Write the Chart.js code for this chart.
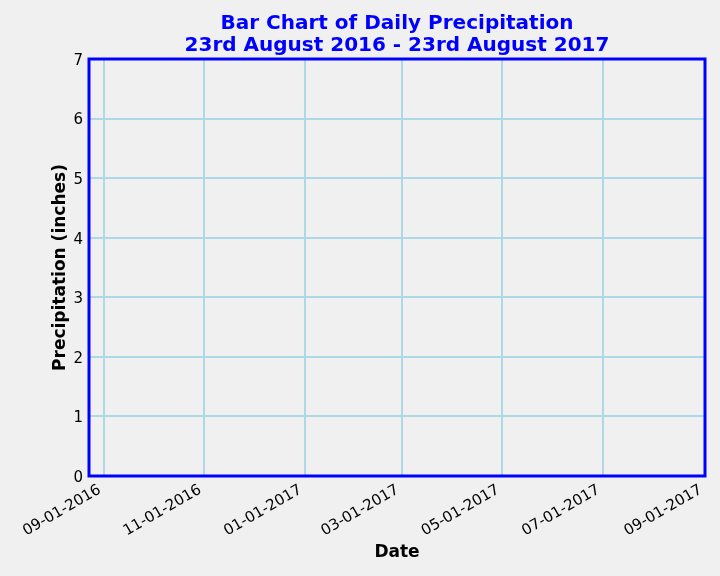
<!DOCTYPE html>
<html>
<head>
<meta charset="utf-8">
<script src="https://cdn.jsdelivr.net/npm/chart.js@4/dist/chart.umd.min.js"></script>
<style>
  html, body { margin: 0; padding: 0; background: #f0f0f0; }
  #wrap { width: 720px; height: 576px; }
</style>
</head>
<body>
<div id="wrap"><canvas id="c" width="720" height="576"></canvas></div>
<script>
// daily precipitation - no bars are visible in the reference, so no values
const dates = [];
const precip = [];

// x range and ticks (dates)
const xStart = "2016-08-23";
const xEnd = "2017-09-01";
const tickDates = ["2016-09-01", "2016-11-01", "2017-01-01", "2017-03-01", "2017-05-01", "2017-07-01", "2017-09-01"];
const yTicks = [0, 1, 2, 3, 4, 5, 6, 7];

const DAY = 86400000;
const toDay = (s) => Date.parse(s + "T00:00:00Z") / DAY;
const fmt = (d) => {
	const t = new Date(d * DAY);
	const mm = String(t.getUTCMonth() + 1).padStart(2, "0");
	const dd = String(t.getUTCDate()).padStart(2, "0");
	return mm + "-" + dd + "-" + t.getUTCFullYear();
};

const points = dates.map((d, i) => ({ x: toDay(d), y: precip[i] }));

const frame = {
	id: "frame",
	afterLayout(chart) {
		// centre the title over the plot area
		const tb = chart.titleBlock;
		if (tb) {
			tb.left = chart.chartArea.left;
			tb.right = chart.chartArea.right;
		}
	},
	afterDraw(chart) {
		const a = chart.chartArea;
		const ctx = chart.ctx;
		ctx.save();
		ctx.strokeStyle = "blue";
		ctx.lineWidth = 3;
		ctx.strokeRect(a.left, a.top, a.right - a.left, a.bottom - a.top);
		ctx.restore();
	},
};

Chart.defaults.font.family = "'DejaVu Sans', sans-serif";
Chart.defaults.color = "#000";

new Chart(document.getElementById("c"), {
	type: "bar",
	data: {
		datasets: [
			{
				label: "Precipitation",
				data: points,
				backgroundColor: "blue",
				barThickness: 1,
			},
		],
	},
	options: {
		responsive: false,
		animation: false,
		layout: { padding: { left: 0, right: 15, top: 0, bottom: 0 } },
		plugins: {
			legend: { display: false },
			tooltip: { enabled: false },
			title: {
				display: true,
				text: ["Bar Chart of Daily Precipitation", "23rd August 2016 - 23rd August 2017"],
				color: "blue",
				font: { size: 20, weight: "bold", lineHeight: 1.1 },
				padding: { top: 13, bottom: 2 },
			},
		},
		scales: {
			x: {
				type: "linear",
				offset: false,
				min: toDay(xStart),
				max: toDay(xEnd),
				afterBuildTicks: (scale) => {
					scale.ticks = tickDates.map((d) => ({ value: toDay(d) }));
				},
				afterFit: (scale) => {
					scale.height = 100;
					scale.paddingLeft = 0;
					scale.paddingRight = 0;
				},
				ticks: {
					autoSkip: false,
					minRotation: 30,
					maxRotation: 30,
					padding: 5,
					labelOffset: -4,
					font: { size: 15 },
					callback: (v) => fmt(v),
				},
				grid: { color: "#add8e6", lineWidth: 2, drawTicks: false, offset: false },
				border: { display: false },
				title: {
					display: true,
					text: "Date",
					font: { size: 17, weight: "bold" },
					padding: { top: 4, bottom: 13 },
				},
			},
			y: {
				min: 0,
				max: 7,
				afterBuildTicks: (scale) => {
					scale.ticks = yTicks.map((v) => ({ value: v }));
				},
				afterFit: (scale) => {
					scale.width = 89;
				},
				ticks: { padding: 6, labelOffset: 2, font: { size: 15 } },
				grid: { color: "#add8e6", lineWidth: 2, drawTicks: false },
				border: { display: false },
				title: {
					display: true,
					text: "Precipitation (inches)",
					font: { size: 17, weight: "bold" },
					padding: { top: 50, bottom: 0 },
				},
			},
		},
	},
	plugins: [frame],
});
</script>
</body>
</html>
